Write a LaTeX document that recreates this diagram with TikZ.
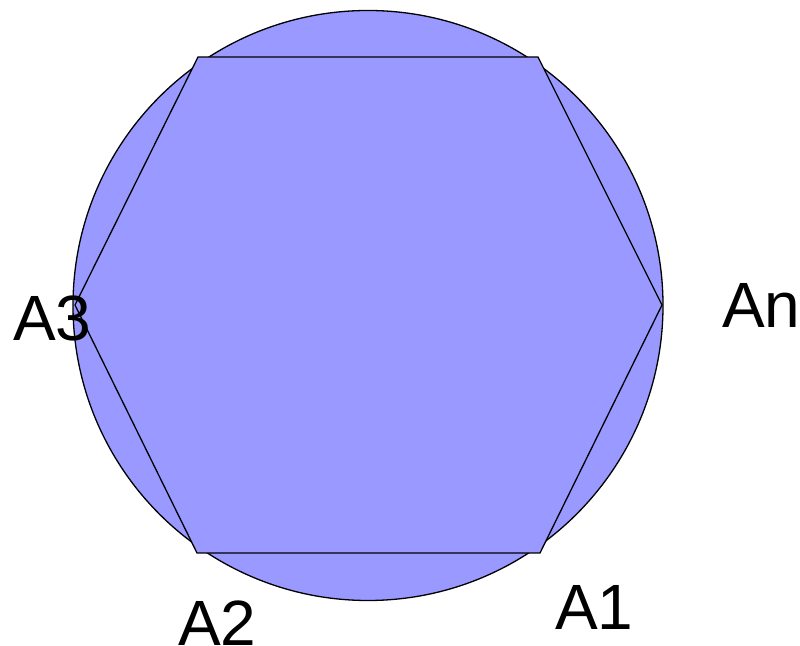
\documentclass[tikz,border=0pt]{standalone}
\usepackage{fontspec}
\setmainfont{Liberation Sans}
\definecolor{fillblue}{HTML}{9999FF}
\begin{document}
\begin{tikzpicture}[x=1pt,y=1pt,
  shapeline/.style={draw=black,line width=1.3pt,fill=fillblue,line join=miter},
  lbl/.style={anchor=base west,inner sep=0pt,font=\fontsize{64}{64}\selectfont}]
\useasboundingbox (0,0) rectangle (800,645);
\node[circle,shapeline,minimum size=590pt,inner sep=0pt] (circ) at (368,339.5) {};
\coordinate (P1) at (198,588);
\coordinate (P2) at (538,588);
\coordinate (An) at (662,340);
\coordinate (A1) at (540,92);
\coordinate (A2) at (197,92);
\coordinate (A3) at (75,340);
\draw[shapeline] (P1) -- (P2) -- (An) -- (A1) -- (A2) -- (A3) -- cycle;
\node[lbl] (lAn) at (722,317) {An};
\node[lbl] (lA3) at (13,304) {A3};
\node[lbl] (lA2) at (178,0) {A2};
\node[lbl] (lA1) at (555,16) {A1};
\end{tikzpicture}
\end{document}
